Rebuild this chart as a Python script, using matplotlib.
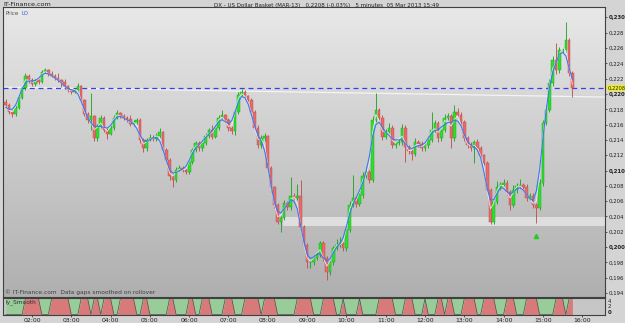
import matplotlib.pyplot as plt
import matplotlib.transforms as mtransforms
from matplotlib.colors import LinearSegmentedColormap
import numpy as np

plt.rcParams['font.family'] = ['Liberation Sans Narrow', 'DejaVu Sans']

# 5 minute bars from 01:20 to 15:45
closes = [
    0.2186, 0.2177, 0.2174, 0.2182, 0.2195, 0.2208, 0.2224, 0.2218, 0.2213, 0.2218,
    0.2216, 0.2229, 0.2231, 0.2226, 0.2224, 0.2221, 0.2218, 0.2216, 0.2210, 0.2205,
    0.2203, 0.2205, 0.2210, 0.2192, 0.2174, 0.2166, 0.2171, 0.2142, 0.2158, 0.2169,
    0.2153, 0.2148, 0.2156, 0.2169, 0.2175, 0.2171, 0.2169, 0.2167, 0.2161, 0.2163,
    0.2166, 0.2140, 0.2129, 0.2140, 0.2142, 0.2141, 0.2145, 0.2150, 0.2127, 0.2114,
    0.2093, 0.2088, 0.2101, 0.2103, 0.2101, 0.2098, 0.2111, 0.2127, 0.2136, 0.2129,
    0.2136, 0.2145, 0.2153, 0.2144, 0.2156, 0.2169, 0.2172, 0.2166, 0.2156, 0.2152,
    0.2177, 0.2199, 0.2203, 0.2197, 0.2192, 0.2177, 0.2156, 0.2133, 0.2142, 0.2145,
    0.2103, 0.2078, 0.2055, 0.2033, 0.2038, 0.2057, 0.2052, 0.2067, 0.2064, 0.2067,
    0.2026, 0.2003, 0.1980, 0.1980, 0.1986, 0.1990, 0.2005, 0.1986, 0.1967, 0.1980,
    0.1999, 0.2003, 0.2005, 0.1999, 0.2022, 0.2055, 0.2064, 0.2056, 0.2068, 0.2093,
    0.2098, 0.2088, 0.2166, 0.2179, 0.2169, 0.2144, 0.2150, 0.2156, 0.2133, 0.2136,
    0.2137, 0.2156, 0.2131, 0.2125, 0.2122, 0.2137, 0.2135, 0.2129, 0.2133, 0.2140,
    0.2153, 0.2162, 0.2142, 0.2153, 0.2169, 0.2171, 0.2142, 0.2177, 0.2172, 0.2163,
    0.2142, 0.2133, 0.2129, 0.2137, 0.2129, 0.2120, 0.2110, 0.2075, 0.2033, 0.2059,
    0.2078, 0.2081, 0.2084, 0.2072, 0.2055, 0.2075, 0.2080, 0.2081, 0.2078, 0.2064,
    0.2067, 0.2055, 0.2051, 0.2084, 0.2162, 0.2179, 0.2214, 0.2244, 0.2231, 0.2258,
    0.2258, 0.2271, 0.2227, 0.2208,
]
first_open = 0.2190

# wick lengths above / below the body, in 0.0001 units
upper_wick = [
    3, 2, 2, 3, 2, 3, 3, 2, 3, 2,
    2, 3, 3, 2, 4, 2, 6, 2, 3, 2,
    2, 3, 4, 2, 2, 3, 30, 2, 3, 4,
    2, 2, 3, 3, 4, 2, 3, 2, 5, 3,
    3, 2, 2, 3, 6, 5, 4, 6, 2, 3,
    2, 3, 3, 4, 3, 2, 4, 3, 3, 2,
    3, 4, 3, 6, 3, 4, 7, 2, 3, 2,
    3, 3, 3, 2, 2, 3, 2, 3, 5, 4,
    2, 3, 2, 2, 3, 5, 3, 24, 3, 15,
    21, 3, 2, 3, 4, 5, 3, 3, 2, 4,
    3, 8, 8, 3, 4, 5, 30, 3, 4, 5,
    6, 3, 5, 22, 3, 4, 4, 6, 3, 3,
    4, 5, 3, 2, 3, 5, 3, 4, 3, 5,
    24, 4, 3, 4, 5, 4, 3, 8, 5, 4,
    3, 3, 4, 3, 4, 3, 2, 3, 2, 4,
    8, 4, 5, 4, 3, 6, 4, 8, 3, 4,
    4, 3, 3, 5, 4, 6, 5, 6, 23, 4,
    4, 23, 2, 3,
]
lower_wick = [
    3, 3, 4, 3, 2, 2, 3, 3, 2, 3,
    3, 2, 2, 3, 2, 3, 2, 7, 3, 3,
    3, 2, 2, 3, 3, 4, 13, 4, 3, 3,
    3, 7, 2, 3, 2, 3, 3, 4, 3, 3,
    2, 4, 5, 3, 2, 3, 3, 2, 3, 4,
    5, 10, 3, 2, 3, 3, 3, 2, 3, 4,
    3, 2, 3, 3, 2, 3, 2, 3, 4, 4,
    5, 3, 2, 3, 3, 3, 3, 4, 3, 3,
    5, 6, 4, 3, 13, 3, 4, 3, 3, 3,
    3, 4, 8, 7, 3, 3, 3, 4, 10, 4,
    3, 3, 3, 4, 4, 3, 3, 4, 3, 4,
    3, 4, 3, 3, 3, 4, 3, 3, 4, 3,
    3, 4, 20, 4, 8, 3, 4, 3, 3, 3,
    3, 3, 5, 3, 3, 3, 13, 3, 4, 3,
    4, 4, 3, 19, 3, 4, 3, 4, 3, 3,
    3, 3, 3, 4, 6, 3, 4, 3, 3, 4,
    3, 4, 20, 3, 4, 3, 3, 3, 5, 3,
    4, 4, 4, 12,
]

# bars where the smooth indicator is green (first, last)
green_runs = [(0, 5), (11, 13), (20, 22), (26, 26), (29, 29), (33, 34), (40, 41),
              (44, 49), (52, 55), (58, 59), (63, 66), (70, 72), (78, 78), (83, 88),
              (94, 96), (101, 102), (104, 107), (109, 113), (119, 121), (125, 127),
              (129, 131), (134, 134), (137, 139), (144, 145), (150, 152), (156, 158),
              (163, 167), (171, 171)]

hour_labels = ['02:00', '03:00', '04:00', '05:00', '06:00', '07:00', '08:00', '09:00',
               '10:00', '11:00', '12:00', '13:00', '14:00', '15:00', '16:00']
first_hour_bar = 8  # 02:00

last_price = 0.2208
trend_x = [-0.9, 183.0]
trend_y = [0.2209, 0.2196]
zone_start = 84.6
zone_low, zone_high = 0.2027, 0.2039
signal_bar, signal_price = 162, 0.2015

n = len(closes)
idx = np.arange(n)
closes = np.array(closes)
opens = np.concatenate([[first_open], closes[:-1]])
highs = np.maximum(opens, closes) + np.array(upper_wick) * 1e-4
lows = np.minimum(opens, closes) - np.array(lower_wick) * 1e-4

fig = plt.figure(figsize=(6.25, 3.23), dpi=100, facecolor='#d4d4d4')
ax = fig.add_axes([3 / 625, 1 - 297 / 323, 602 / 625, 290 / 323])
axi = fig.add_axes([3 / 625, 1 - 315 / 323, 602 / 625, 17 / 323])

xlim = (-0.85, 182.96)

# gradient background
cmap = LinearSegmentedColormap.from_list('bg', ['#afafaf', '#e8e8e8'])
grad = np.linspace(0, 1, 256).reshape(-1, 1)
ax.imshow(grad, extent=[0, 1, 0, 1], transform=ax.transAxes, aspect='auto',
          cmap=cmap, origin='lower', zorder=0)

# zone + lines
ax.fill_between([zone_start, xlim[1]], zone_low, zone_high, color='#dedede', zorder=1, lw=0)
ax.plot(trend_x, trend_y, color='#f4f4f4', lw=0.9, zorder=2)
ax.axhline(last_price, color='#3340ee', lw=0.9, ls=(0, (4, 3)), zorder=2)

# candles
up = closes >= opens
body_col = np.where(up, '#2ee02e', '#e86a6a')
edge_col = np.where(up, '#18a018', '#c04848')
ax.vlines(idx, lows, highs, colors=edge_col, lw=0.6, zorder=3)
ax.bar(idx, closes - opens, bottom=opens, width=0.8, color=body_col,
       edgecolor=edge_col, linewidth=0.3, zorder=4)

# smoothed lines
pad = np.concatenate([[closes[0]] * 2, closes, [closes[-1]] * 2])
blue = np.convolve(pad, np.array([1, 2, 3, 2, 1]) / 9, mode='valid')
pad3 = np.concatenate([[closes[0]], closes, [closes[-1]]])
white = np.convolve(pad3, np.array([1, 2, 1]) / 4, mode='valid')
ax.plot(idx, white, color='#f0f0f0', lw=0.6, zorder=5, alpha=0.9)
ax.plot(idx, blue, color='#3a78f0', lw=0.8, zorder=5)

ax.plot(signal_bar, signal_price, marker='^', color='#22cc22', ms=3, zorder=6)

ax.set_xlim(*xlim)
ax.set_ylim(0.19347, 0.23137)
ax.set_xticks([])
ticks = np.round(np.arange(0.194, 0.2301, 0.002), 3)
ax.yaxis.tick_right()
ax.set_yticks(ticks)
ax.set_yticklabels([('%.3f' % t).replace('.', ',') for t in ticks])
for t, lab in zip(ticks, ax.get_yticklabels()):
    if round(t * 1000) % 10 == 0:
        lab.set_fontweight('bold')
ax.tick_params(axis='y', labelsize=3.9, length=1.5, width=0.5, pad=1, colors='#202020')
for s in ax.spines.values():
    s.set_color('#404040')
    s.set_linewidth(0.8)

trans = mtransforms.blended_transform_factory(ax.transAxes, ax.transData)
ax.text(1.005, last_price, ('%.4f' % last_price).replace('.', ','), transform=trans,
        fontsize=3.7, va='center', ha='left', color='#202020',
        bbox=dict(boxstyle='square,pad=0.1', fc='#f2ee20', ec='none'))

ax.text(0.004, 0.985, 'Price', transform=ax.transAxes, fontsize=4.0, color='#505050', va='top')
ax.text(0.030, 0.985, 'LO', transform=ax.transAxes, fontsize=4.0, color='#3060e0', va='top')
ax.text(0.004, 0.006, '\u00a9 IT-Finance.com  Data gaps smoothed on rollover', transform=ax.transAxes,
        fontsize=4.2, color='#404040', va='bottom')

# indicator panel
state = np.zeros(n, dtype=bool)
for a, b in green_runs:
    state[a:b + 1] = True
level = np.where(state, -0.8, 4.8)
axi.set_facecolor('#c6c6c6')
axi.fill_between(idx, -1, level, color='#d87a7a', lw=0)
axi.fill_between(idx, level, 5, color='#98cc98', lw=0)
axi.plot(idx, level, color='#505050', lw=0.5)
axi.set_xlim(*xlim)
axi.set_ylim(-1, 5)
axi.yaxis.tick_right()
axi.set_yticks([0, 2, 4])
axi.set_yticklabels(['0', '2', '4'])
axi.get_yticklabels()[0].set_fontweight('bold')
axi.tick_params(axis='y', labelsize=3.9, length=0, pad=2, colors='#202020')
hour_pos = first_hour_bar + 12 * np.arange(len(hour_labels))
axi.set_xticks(hour_pos)
axi.set_xticklabels(hour_labels)
axi.tick_params(axis='x', labelsize=4.4, length=1.5, width=0.5, pad=0.8, colors='#202020')
for s in axi.spines.values():
    s.set_color('#404040')
    s.set_linewidth(0.8)
axi.text(0.004, 0.92, 'ly_Smooth', transform=axi.transAxes, fontsize=4.2, color='#303030', va='top')

fig.text(3 / 625, 1 - 5 / 323, 'IT-Finance.com', fontsize=4.6, va='center', ha='left', color='#202020')
fig.text(327 / 625, 1 - 5 / 323,
         'DX - US Dollar Basket (MAR-13)   0,2208 (-0.03%)   5 minutes  05 Mar 2013 15:49',
         fontsize=4.0, va='center', ha='center', color='#202020')

fig.savefig('out.png', dpi=100, facecolor=fig.get_facecolor())
